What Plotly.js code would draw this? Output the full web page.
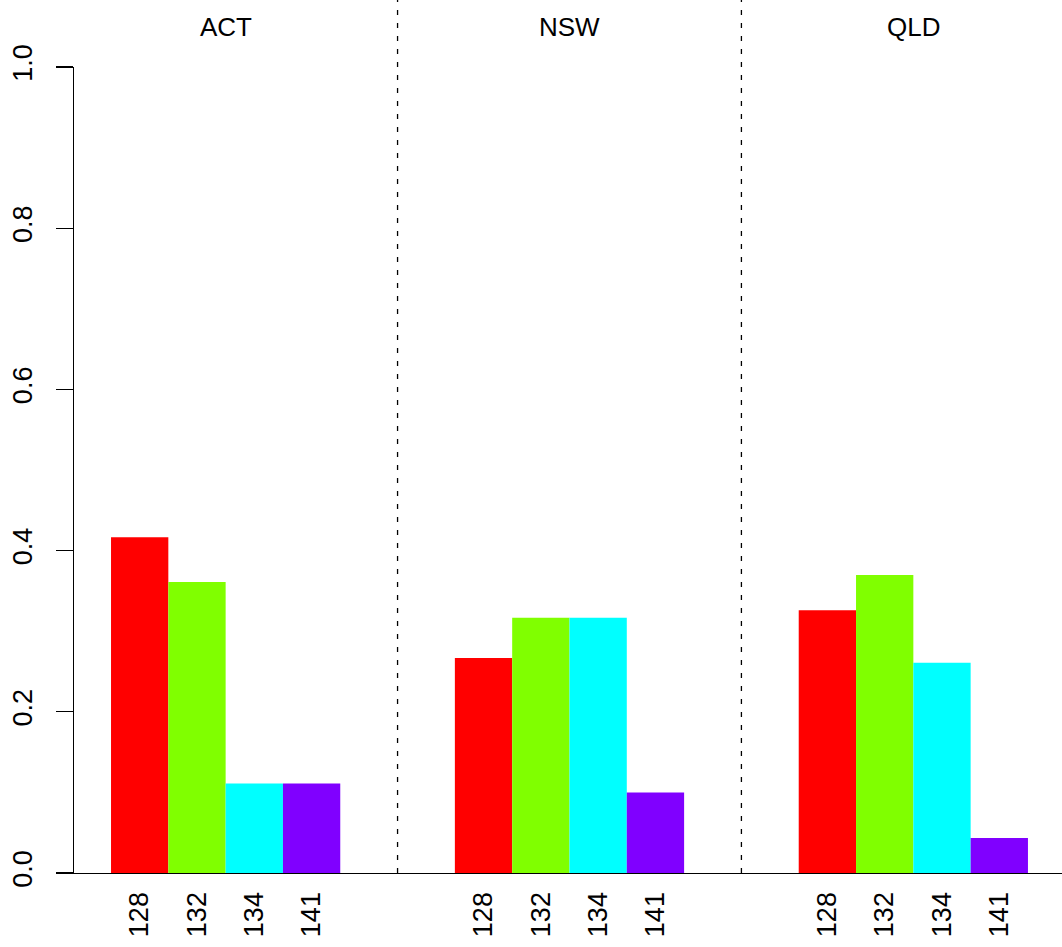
<!DOCTYPE html>
<html>
<head>
<meta charset="utf-8">
<script src="https://cdn.plot.ly/plotly-3.0.1.min.js"></script>
<style>html,body{margin:0;padding:0;background:#fff;}</style>
</head>
<body>
<div id="chart" style="width:1062px;height:947px;"></div>
<script>
// Data
const groups = ['ACT', 'NSW', 'QLD'];
const alleles = ['128', '132', '134', '141'];
const colors = ['#FF0000', '#80FF00', '#00FFFF', '#8000FF'];
const actValues = [0.4167, 0.3611, 0.1111, 0.1111];
const nswValues = [0.2667, 0.3167, 0.3167, 0.1000];
const qldValues = [0.3261, 0.3696, 0.2609, 0.0435];
const yTicks = [0, 0.2, 0.4, 0.6, 0.8, 1.0];

const groupValues = [actValues, nswValues, qldValues];
const slotsPerGroup = 6;

const traces = alleles.map((a, ai) => {
  const xs = [], ys = [];
  groups.forEach((g, gi) => {
    xs.push(gi * slotsPerGroup + 1.5 + ai);
    ys.push(groupValues[gi][ai]);
  });
  return {
    type: 'bar', x: xs, y: ys, width: 1, name: a,
    marker: {color: colors[ai], line: {width: 0}},
    hoverinfo: 'x+y', showlegend: false
  };
});

const tickvals = [], ticktext = [];
groups.forEach((g, gi) => alleles.forEach((a, ai) => {
  tickvals.push(gi * slotsPerGroup + 1.5 + ai);
  ticktext.push(a);
}));

const font = {family: 'Liberation Sans, Arial, sans-serif', size: 27, color: '#000'};

const shapes = [];
for (let gi = 1; gi < groups.length; gi++) {
  shapes.push({type: 'line', xref: 'x', yref: 'paper', x0: gi * slotsPerGroup, x1: gi * slotsPerGroup,
    y0: 0, y1: 1.0831, line: {color: '#000', width: 1.3, dash: '5px,8px'}});
}
const annotations = groups.map((g, gi) => ({
  text: g, xref: 'x', yref: 'paper', x: gi * slotsPerGroup + 3, y: 1.0496,
  xanchor: 'center', yanchor: 'middle', showarrow: false, font: {family: font.family, size: 26, color: '#000'}
}));

const layout = {
  width: 1062, height: 947,
  margin: {l: 74, r: 0, t: 67, b: 74, pad: 0},
  paper_bgcolor: '#fff', plot_bgcolor: '#fff',
  font: font,
  barmode: 'overlay',
  xaxis: {
    range: [0.354, 17.594], showgrid: false, zeroline: false,
    showline: true, linecolor: '#000', linewidth: 1.3,
    tickmode: 'array', tickvals: tickvals, ticktext: ticktext,
    tickangle: -90, ticks: '', ticklabelstandoff: 7, tickfont: font
  },
  yaxis: {
    range: [0, 1], showgrid: false, zeroline: false,
    showline: true, linecolor: '#000', linewidth: 1.3,
    tickmode: 'array', tickvals: yTicks, ticktext: yTicks.map(v => v.toFixed(1)),
    ticks: 'outside', ticklen: 17, tickwidth: 1.3, tickcolor: '#000',
    tickangle: -90, ticklabelstandoff: 13, tickfont: font
  },
  shapes: shapes,
  annotations: annotations
};

Plotly.newPlot('chart', traces, layout, {displayModeBar: false, staticPlot: true});
</script>
</body>
</html>
